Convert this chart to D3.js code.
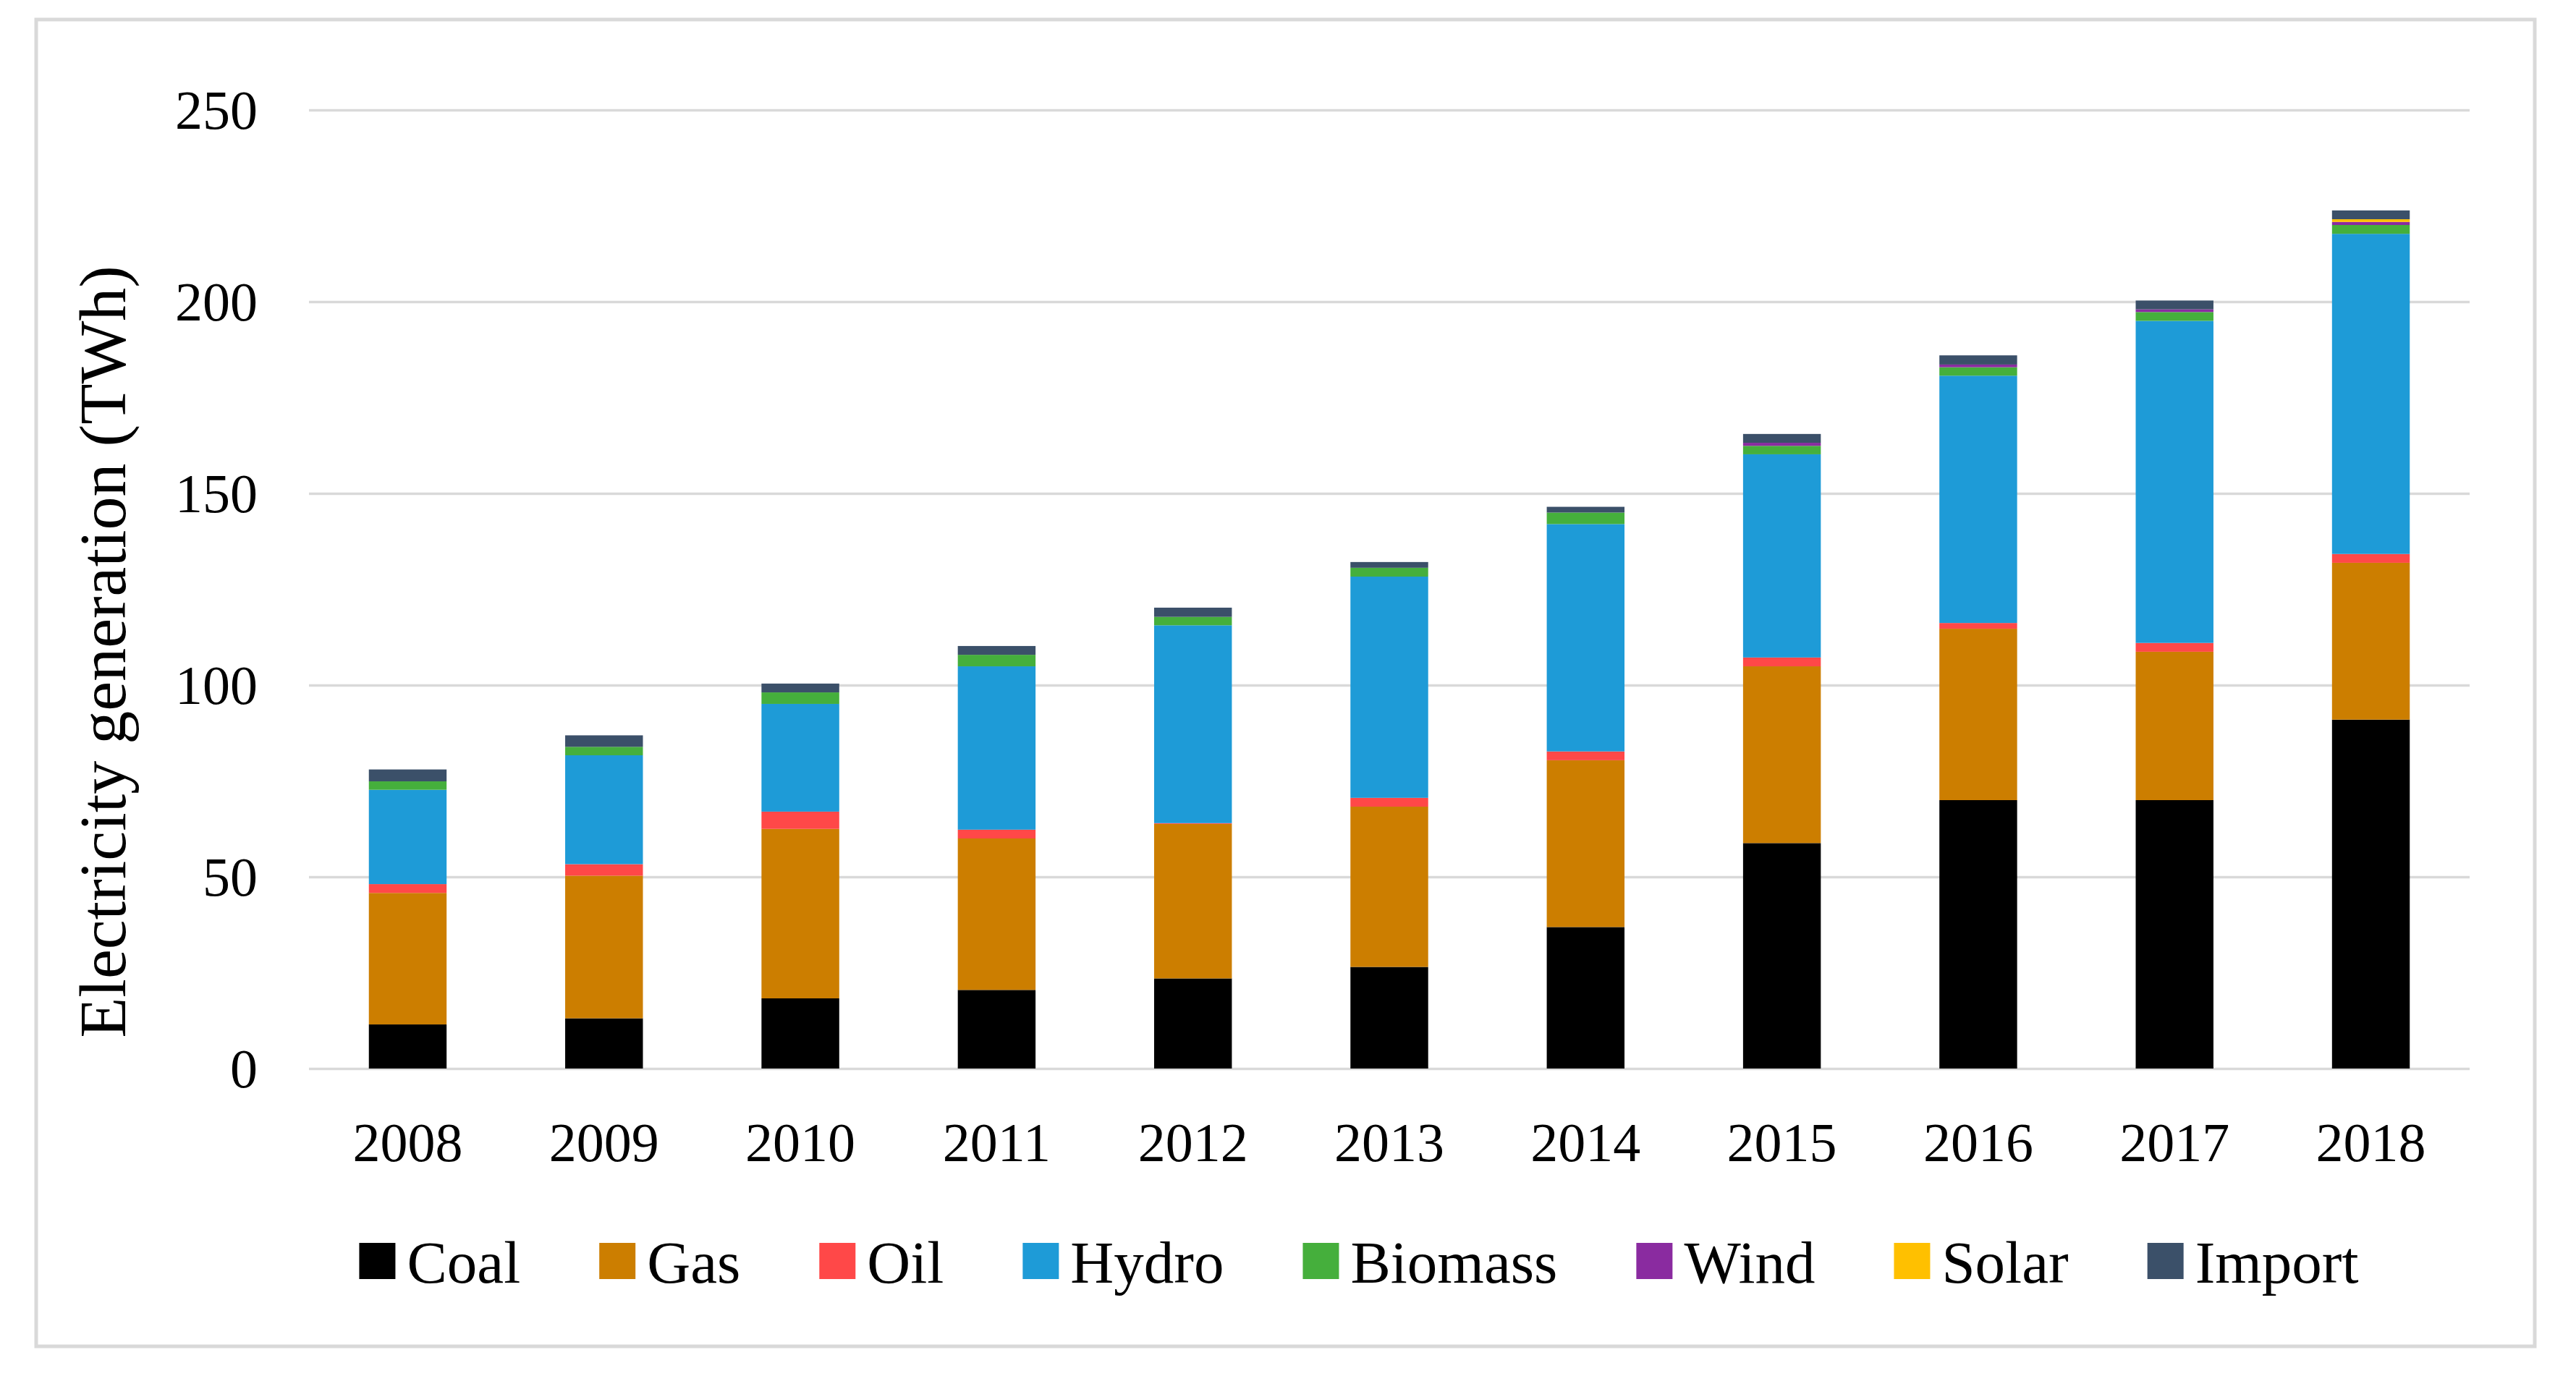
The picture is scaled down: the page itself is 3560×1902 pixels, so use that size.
<!DOCTYPE html>
<html>
<head>
<meta charset="utf-8">
<script src="https://cdn.jsdelivr.net/npm/d3@7"></script>
<style>
  html, body { margin: 0; padding: 0; background: #fff; }
  svg text { font-family: "Palatino Linotype", "Book Antiqua", Palatino, "Liberation Serif", serif; fill: #000; }
</style>
</head>
<body>
<div id="chart"></div>
<script>
// values (TWh)
const years = ["2008", "2009", "2010", "2011", "2012", "2013", "2014", "2015", "2016", "2017", "2018"]
const coal    = [11.5, 13.1, 18.3, 20.5, 23.5, 26.5, 36.9, 58.8, 70.0, 70.0, 91.0]
const gas     = [34.3, 37.2, 44.2, 39.5, 40.3, 41.8, 43.5, 46.1, 44.7, 38.7, 40.9]
const oil     = [2.3, 3.0, 4.5, 2.3, 0.2, 2.3, 2.3, 2.3, 1.5, 2.3, 2.3]
const hydro   = [24.6, 28.4, 28.1, 42.6, 51.6, 57.7, 59.3, 53.0, 64.5, 84.0, 83.5]
const biomass = [2.2, 2.2, 3.0, 3.0, 2.2, 2.3, 3.0, 2.2, 2.2, 2.3, 2.3]
const wind    = [0, 0, 0, 0, 0, 0, 0, 0.8, 0.7, 0.7, 0.8]
const solar   = [0, 0, 0, 0, 0, 0, 0, 0, 0, 0, 0.7]
const imports = [3.1, 3.0, 2.3, 2.3, 2.4, 1.5, 1.5, 2.3, 2.4, 2.3, 2.3]

const seriesNames = ["Coal", "Gas", "Oil", "Hydro", "Biomass", "Wind", "Solar", "Import"]
const seriesColors = ["#000000", "#cc7e00", "#ff4848", "#1e9bd7", "#45af3c", "#8a2ba0", "#ffc000", "#3b5069"]
const yTicks = [0, 50, 100, 150, 200, 250]

const width = 3560
const height = 1902

const seriesValues = [coal, gas, oil, hydro, biomass, wind, solar, imports]
const rows = years.map((y, i) => {
    const r = { year: y }
    seriesNames.forEach((s, j) => { r[s] = seriesValues[j][i] })
    return r
})

const svg = d3.select("#chart").append("svg")
    .attr("width", width)
    .attr("height", height)
    .attr("viewBox", `0 0 ${width} ${height}`)

svg.append("rect").attr("width", width).attr("height", height).attr("fill", "#fff")

// outer frame
svg.append("rect")
    .attr("x", 50).attr("y", 27)
    .attr("width", 3453).attr("height", 1834)
    .attr("fill", "none")
    .attr("stroke", "#d9d9d9")
    .attr("stroke-width", 5)

const plotLeft = 427, plotRight = 3413

const x = d3.scaleBand()
    .domain(years)
    .range([plotLeft, plotRight])
    .paddingInner(0.604)
    .paddingOuter(0.305)

const y = d3.scaleLinear()
    .domain([0, 250])
    .range([1477, 152])

// gridlines + y labels
const yAxis = svg.append("g")
    .attr("transform", `translate(${plotLeft},0)`)
    .call(d3.axisLeft(y).tickValues(yTicks).tickSize(-(plotRight - plotLeft)).tickPadding(71))
yAxis.select(".domain").remove()
yAxis.selectAll(".tick line").attr("stroke", "#d9d9d9").attr("stroke-width", 3.5)
yAxis.selectAll(".tick text")
    .attr("font-size", 76)
    .attr("dy", "0.33em")
    .style("font-family", null)

// stacked bars
const stacked = d3.stack().keys(seriesNames)(rows)

svg.append("g").selectAll("g")
    .data(stacked)
    .enter().append("g")
    .attr("fill", (d, i) => seriesColors[i])
    .selectAll("rect")
    .data(d => d)
    .enter().append("rect")
    .attr("x", d => x(d.data.year))
    .attr("y", d => y(d[1]))
    .attr("width", x.bandwidth())
    .attr("height", d => y(d[0]) - y(d[1]))

// x labels
const xAxis = svg.append("g")
    .attr("transform", `translate(0,${y(0)})`)
    .call(d3.axisBottom(x).tickSize(0).tickPadding(74))
xAxis.select(".domain").remove()
xAxis.selectAll(".tick text")
    .attr("font-size", 76)
    .style("font-family", null)

// y title
svg.append("text")
    .attr("transform", "translate(141,901) rotate(-90)")
    .attr("text-anchor", "middle")
    .attr("dy", "0.35em")
    .attr("font-size", 92)
    .text("Electricity generation (TWh)")

// legend
const legendG = svg.append("g")
const legendY = 1718
const sq = 50
const items = legendG.selectAll("g")
    .data(seriesNames)
    .enter().append("g")

items.append("rect")
    .attr("width", sq).attr("height", sq)
    .attr("y", legendY)
    .attr("fill", (d, i) => seriesColors[i])

items.append("text")
    .attr("x", sq + 16)
    .attr("y", legendY + sq + 5)
    .attr("font-size", 83)
    .text(d => d)

let cursor = 0
const gap = 109
items.each(function () {
    const g = d3.select(this)
    const w = g.select("text").node().getComputedTextLength()
    g.attr("data-x", cursor)
    cursor += sq + 16 + w + gap
})
const total = cursor - gap
const legendStart = 1878 - total / 2
items.attr("transform", function () {
    return `translate(${legendStart + (+d3.select(this).attr("data-x"))},0)`
})
</script>
</body>
</html>
